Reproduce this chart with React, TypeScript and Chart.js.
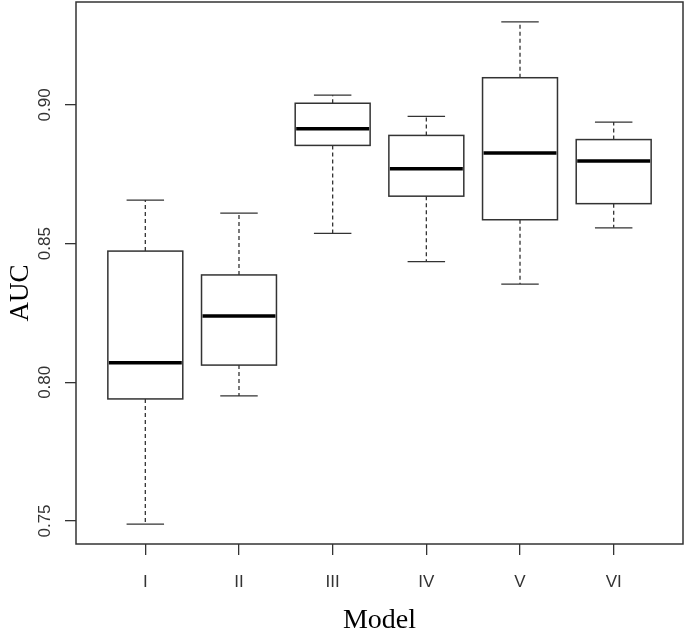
import { useEffect, useRef } from "react";
import { Chart, registerables } from "chart.js";

Chart.register(...registerables);

const models = ["I", "II", "III", "IV", "V", "VI"];
const whiskerLow = [0.7489, 0.7951, 0.8537, 0.8435, 0.8354, 0.8557];
const q1 = [0.794, 0.8062, 0.8854, 0.8671, 0.8586, 0.8644];
const median = [0.807, 0.8239, 0.8914, 0.877, 0.8827, 0.8798];
const q3 = [0.8473, 0.8387, 0.9006, 0.889, 0.9098, 0.8875];
const whiskerHigh = [0.8657, 0.861, 0.9035, 0.8959, 0.9299, 0.8938];
const yTicks = [0.75, 0.8, 0.85, 0.9];
const xTitle = "Model";
const yTitle = "AUC";

const INK = "#333333";
const SANS = "'Liberation Sans', Arial, sans-serif";
const SERIF = "'Liberation Serif', 'Times New Roman', serif";

const boxPlugin = {
  id: "rBoxplot",
  afterDatasetsDraw(chart: any) {
    const { ctx, chartArea, scales } = chart;
    const x = scales.x;
    const y = scales.y;
    ctx.save();
    // frame
    ctx.strokeStyle = INK;
    ctx.lineWidth = 1.5;
    ctx.setLineDash([]);
    ctx.strokeRect(chartArea.left, chartArea.top, chartArea.right - chartArea.left, chartArea.bottom - chartArea.top);

    const boxHalf = x.getPixelForValue(1.4) - x.getPixelForValue(1);
    const capHalf = boxHalf / 2;
    models.forEach((_, i) => {
      const cx = x.getPixelForValue(i + 1);
      const yLo = y.getPixelForValue(whiskerLow[i]);
      const yQ1 = y.getPixelForValue(q1[i]);
      const yMed = y.getPixelForValue(median[i]);
      const yQ3 = y.getPixelForValue(q3[i]);
      const yHi = y.getPixelForValue(whiskerHigh[i]);

      // whiskers dashed
      ctx.strokeStyle = INK;
      ctx.lineWidth = 1.3;
      ctx.setLineDash([4, 3]);
      ctx.beginPath();
      ctx.moveTo(cx, yQ3);
      ctx.lineTo(cx, yHi);
      ctx.moveTo(cx, yQ1);
      ctx.lineTo(cx, yLo);
      ctx.stroke();

      // caps
      ctx.setLineDash([]);
      ctx.beginPath();
      ctx.moveTo(cx - capHalf, yHi);
      ctx.lineTo(cx + capHalf, yHi);
      ctx.moveTo(cx - capHalf, yLo);
      ctx.lineTo(cx + capHalf, yLo);
      ctx.stroke();

      // box
      ctx.fillStyle = "#ffffff";
      ctx.fillRect(cx - boxHalf, yQ3, boxHalf * 2, yQ1 - yQ3);
      ctx.lineWidth = 1.5;
      ctx.strokeRect(cx - boxHalf, yQ3, boxHalf * 2, yQ1 - yQ3);

      // median
      ctx.strokeStyle = "#000000";
      ctx.lineWidth = 3.5;
      ctx.beginPath();
      ctx.moveTo(cx - boxHalf + 1, yMed);
      ctx.lineTo(cx + boxHalf - 1, yMed);
      ctx.stroke();
    });

    // y tick labels (rotated, R style)
    ctx.fillStyle = INK;
    ctx.font = `17px ${SANS}`;
    ctx.textAlign = "center";
    ctx.textBaseline = "middle";
    yTicks.forEach((v) => {
      const py = y.getPixelForValue(v);
      ctx.save();
      ctx.translate(45, py);
      ctx.rotate(-Math.PI / 2);
      ctx.fillText(v.toFixed(2), 0, 0);
      ctx.restore();
    });

    // axis titles
    ctx.fillStyle = "#000000";
    ctx.font = `28px ${SERIF}`;
    ctx.textAlign = "center";
    ctx.textBaseline = "alphabetic";
    ctx.fillText(xTitle, (chartArea.left + chartArea.right) / 2, 628);
    ctx.save();
    ctx.translate(28, 293);
    ctx.rotate(-Math.PI / 2);
    ctx.font = `27px ${SERIF}`;
    ctx.fillText(yTitle, 0, 0);
    ctx.restore();

    ctx.restore();
  },
};

export default function App() {
  const canvasRef = useRef<HTMLCanvasElement | null>(null);

  useEffect(() => {
    document.body.style.margin = "0";
    const canvas = canvasRef.current;
    if (!canvas) return;
    const chart = new Chart(canvas, {
      type: "scatter",
      data: {
        datasets: [
          {
            data: median.map((m, i) => ({ x: i + 1, y: m })),
            pointRadius: 0,
            showLine: false,
          },
        ],
      },
      options: {
        animation: false,
        responsive: false,
        devicePixelRatio: 1,
        layout: { padding: { top: 2, right: 2, left: 0, bottom: 0 } },
        plugins: { legend: { display: false }, tooltip: { enabled: false } },
        scales: {
          x: {
            type: "linear",
            min: 0.26,
            max: 6.74,
            afterBuildTicks: (scale: any) => {
              scale.ticks = models.map((_, i) => ({ value: i + 1 }));
            },
            afterFit: (scale: any) => {
              scale.height = 90;
            },
            border: { display: false },
            grid: {
              drawOnChartArea: false,
              drawTicks: true,
              tickLength: 11,
              color: INK,
              lineWidth: 1.3,
            },
            ticks: {
              autoSkip: false,
              maxRotation: 0,
              minRotation: 0,
              padding: 17,
              color: INK,
              font: { family: SANS, size: 17 },
              callback: (v: any) => models[Math.round(Number(v)) - 1] ?? "",
            },
          },
          y: {
            type: "linear",
            min: 0.7417,
            max: 0.9371,
            afterBuildTicks: (scale: any) => {
              scale.ticks = yTicks.map((v) => ({ value: v }));
            },
            afterFit: (scale: any) => {
              scale.width = 76;
            },
            border: { display: false },
            grid: {
              drawOnChartArea: false,
              drawTicks: true,
              tickLength: 11,
              color: INK,
              lineWidth: 1.3,
            },
            ticks: { display: false },
          },
        },
      },
      plugins: [boxPlugin],
    });
    return () => chart.destroy();
  }, []);

  return (
    <div style={{ width: 685, height: 634, background: "#ffffff" }}>
      <canvas ref={canvasRef} width={685} height={634} style={{ display: "block" }} />
    </div>
  );
}
